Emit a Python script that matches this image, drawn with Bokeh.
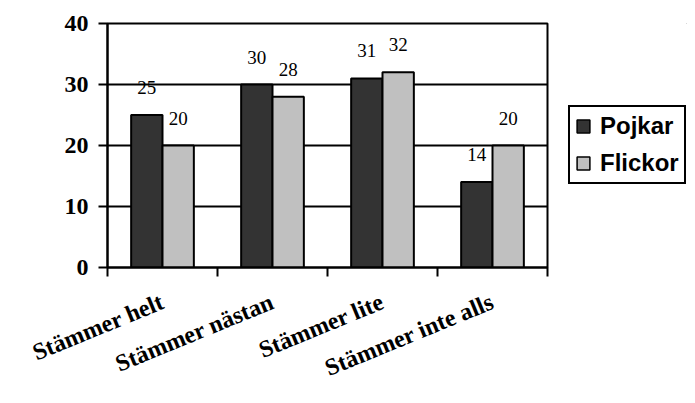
import numpy as np
from bokeh.plotting import figure
from bokeh.layouts import row
from bokeh.models import ColumnDataSource, LabelSet, FixedTicker, Range1d, Legend, LegendItem
from bokeh.embed import file_html
from bokeh.resources import INLINE

categories = ["Stämmer helt", "Stämmer nästan", "Stämmer lite", "Stämmer inte alls"]
pojkar = [25, 30, 31, 14]
flickor = [20, 28, 32, 20]
series = ["Pojkar", "Flickor"]
y_ticks = [0, 10, 20, 30, 40]

DARK = "#333333"
LIGHT = "#c0c0c0"
BAR_W = 0.285

idx = np.arange(len(categories))
centers = [float(i) + 0.5 for i in idx]
src_p = ColumnDataSource(dict(x=idx + 0.5 - BAR_W / 2, top=pojkar, lab=[str(v) for v in pojkar]))
src_f = ColumnDataSource(dict(x=idx + 0.5 + BAR_W / 2, top=flickor, lab=[str(v) for v in flickor]))

p = figure(width=550, height=395, output_backend="svg", toolbar_location=None,
           x_range=Range1d(0, len(categories)), y_range=Range1d(0, 40),
           min_border_left=107, min_border_right=3, min_border_top=23, min_border_bottom=128)
p.background_fill_color = "white"
p.border_fill_color = "white"
p.outline_line_color = "black"
p.outline_line_width = 2

p.vbar(x="x", top="top", width=BAR_W, source=src_p, fill_color=DARK, line_color="black", line_width=2)
p.vbar(x="x", top="top", width=BAR_W, source=src_f, fill_color=LIGHT, line_color="black", line_width=2)

# grid
p.xgrid.visible = False
p.ygrid.ticker = FixedTicker(ticks=y_ticks)
p.ygrid.grid_line_color = "black"
p.ygrid.grid_line_width = 2

# y axis
ya = p.yaxis[0]
ya.ticker = FixedTicker(ticks=y_ticks)
ya.major_label_text_font = "Liberation Serif"
ya.major_label_text_font_style = "bold"
ya.major_label_text_font_size = "24px"
ya.major_label_text_color = "black"
ya.major_label_standoff = 10
ya.major_tick_out = 9
ya.major_tick_in = 0
ya.minor_tick_line_color = None
ya.axis_line_width = 2
ya.major_tick_line_width = 2
ya.axis_line_color = "black"
ya.major_tick_line_color = "black"

# x axis: labels at category centres, tick marks at category boundaries
xa = p.xaxis[0]
xa.ticker = FixedTicker(ticks=centers, minor_ticks=list(range(len(categories) + 1)))
xa.major_label_overrides = {c: lab for c, lab in zip(centers, categories)}
xa.major_label_orientation = 0.39
xa.major_label_standoff = 24
xa.major_label_text_font = "Liberation Serif"
xa.major_label_text_font_style = "bold"
xa.major_label_text_font_size = "24px"
xa.major_label_text_color = "black"
xa.major_tick_line_color = None
xa.major_tick_out = 0
xa.major_tick_in = 0
xa.minor_tick_out = 9
xa.minor_tick_in = 0
xa.minor_tick_line_width = 2
xa.minor_tick_line_color = "black"
xa.axis_line_width = 2
xa.axis_line_color = "black"

# data labels
for src in (src_p, src_f):
    p.add_layout(LabelSet(x="x", y="top", text="lab", source=src, text_align="center",
                          text_baseline="alphabetic", y_offset=21,
                          text_font="Liberation Serif", text_font_size="19px", text_color="black"))

# legend panel as a separate small figure (swatch renderers sit outside its view)
p2 = figure(width=137, height=395, output_backend="svg", toolbar_location=None,
            x_range=Range1d(0, 1), y_range=Range1d(0, 1),
            min_border_left=0, min_border_right=0, min_border_top=0, min_border_bottom=0)
p2.axis.visible = False
p2.grid.visible = False
p2.outline_line_color = None
p2.background_fill_color = "white"
p2.border_fill_color = "white"
lp = p2.vbar(x=[5], top=[5], bottom=[4], width=0.1, fill_color=DARK, line_color="black", line_width=1.5)
lf = p2.vbar(x=[5], top=[5], bottom=[4], width=0.1, fill_color=LIGHT, line_color="black", line_width=1.5)

lg = Legend(items=[LegendItem(label=series[0], renderers=[lp]),
                   LegendItem(label=series[1], renderers=[lf])])
lg.location = (18, 83)
lg.label_text_font = "Liberation Sans"
lg.label_text_font_style = "bold"
lg.label_text_font_size = "24px"
lg.label_text_color = "black"
lg.glyph_width = 16
lg.glyph_height = 16
lg.label_standoff = 9
lg.padding = 5
lg.spacing = 9
lg.margin = 0
lg.border_line_color = "black"
lg.border_line_alpha = 1.0
lg.border_line_width = 2
lg.background_fill_color = "white"
lg.background_fill_alpha = 1.0
p2.add_layout(lg, "center")

open("out.html", "w").write(file_html(row(p, p2), INLINE))
